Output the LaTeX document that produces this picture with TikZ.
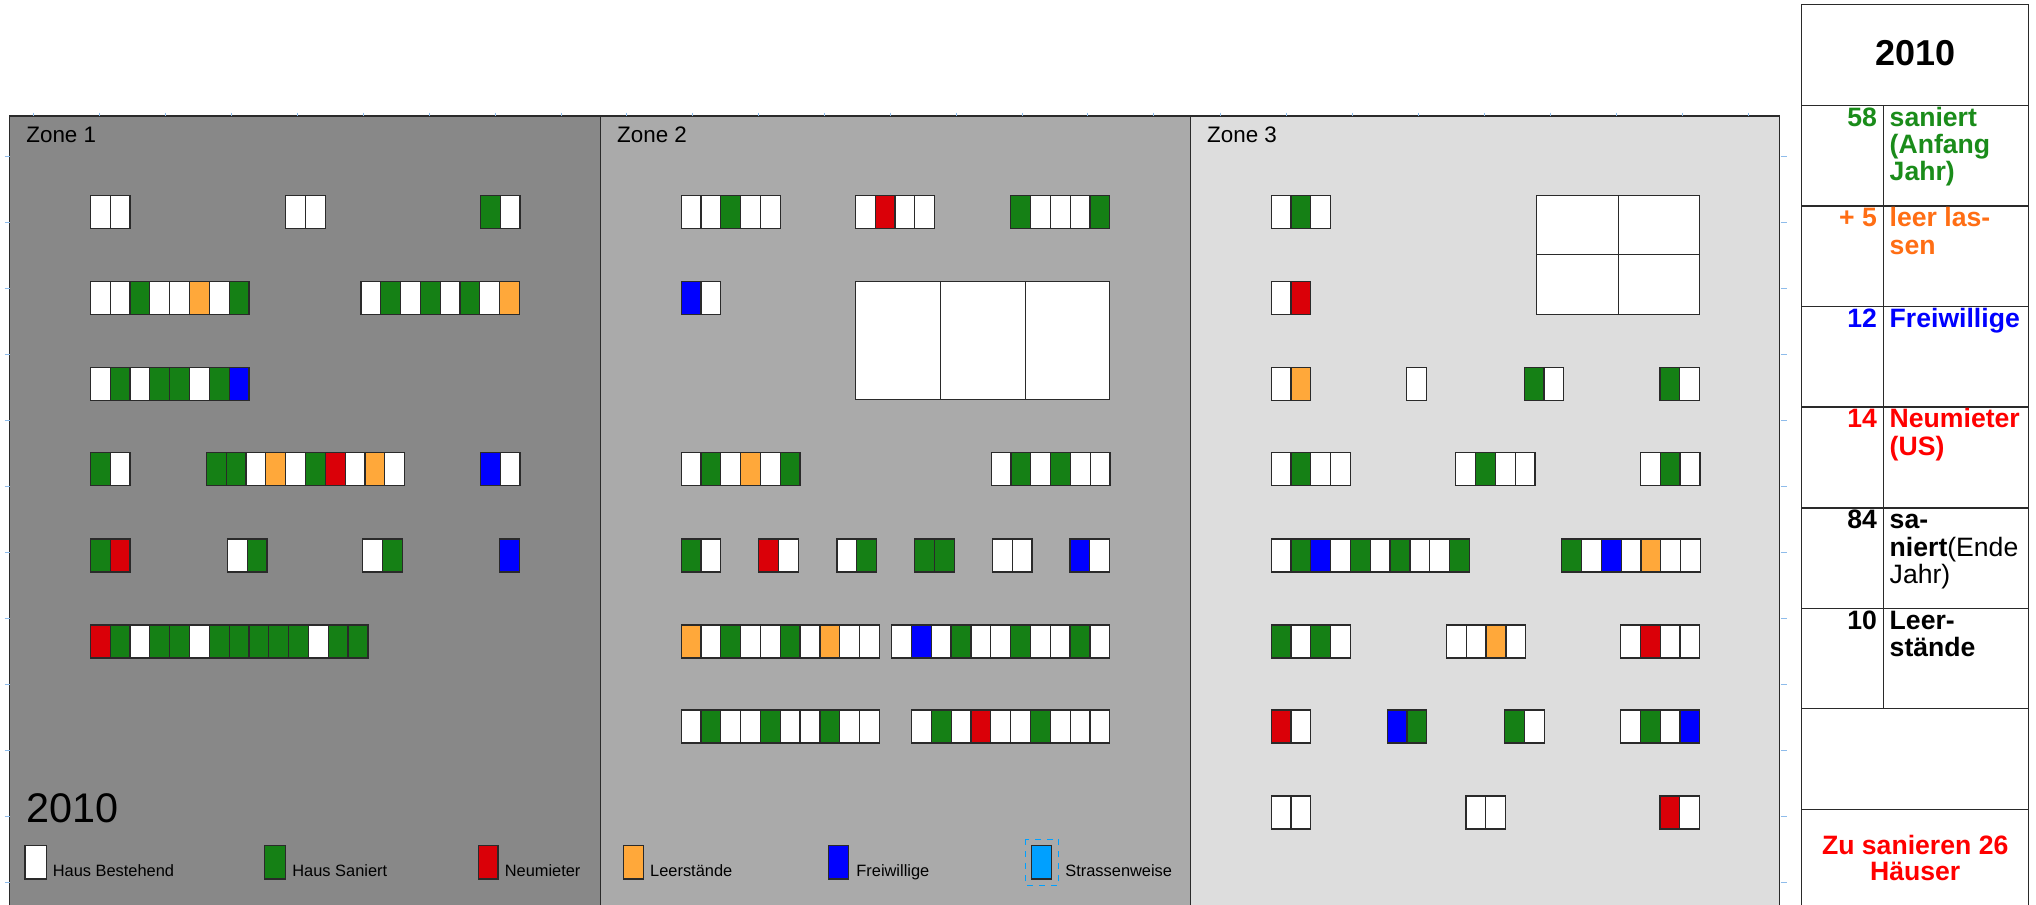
\documentclass[tikz,border=0pt]{standalone}
\usepackage{fontspec}
\setmainfont{Liberation Sans}
\definecolor{zoneA}{HTML}{888888}
\definecolor{zoneB}{HTML}{AAAAAA}
\definecolor{zoneC}{HTML}{DDDDDD}
\definecolor{hw}{HTML}{FFFFFF}
\definecolor{hg}{HTML}{158015}
\definecolor{ho}{HTML}{FFA83A}
\definecolor{hr}{HTML}{DA0008}
\definecolor{hb}{HTML}{0000FF}
\definecolor{hl}{HTML}{00A0FF}
\definecolor{edge}{HTML}{2A2A2A}
\definecolor{tickc}{HTML}{8EBCEB}
\definecolor{tgreen}{HTML}{1A8C1A}
\definecolor{torange}{HTML}{FF6E14}
\definecolor{tred}{HTML}{FF0000}
\definecolor{tblue}{HTML}{0000FF}
\def\cw{19.83}
\newcommand\blk[3]{\foreach \hc [count=\hi from 0] in {#3}{\path[house, fill=\hc] ({#1+\hi*\cw},#2) rectangle ++(\cw,33);}}
\begin{document}
\begin{tikzpicture}[x=0.5pt,y=-0.5pt,
  house/.style={draw=edge, line width=0.6pt},
  panel/.style={draw=edge, line width=0.6pt},
  tickst/.style={draw=tickc, line width=0.5pt},
  tbl/.style={draw=edge, line width=0.6pt},
  zonelbl/.style={inner sep=0pt, anchor=base west, font=\fontsize{11.2pt}{13pt}\selectfont},
  legtxt/.style={inner sep=0pt, anchor=base west, font=\fontsize{8.2pt}{10pt}\selectfont},
  tnum/.style={inner sep=0pt, anchor=base east, font=\fontsize{13.3pt}{13.7pt}\selectfont\bfseries},
  ttxt/.style={inner sep=0pt, anchor=base west, font=\fontsize{13.3pt}{13.7pt}\selectfont\bfseries},
  tplain/.style={inner sep=0pt, anchor=base west, font=\fontsize{13.3pt}{13.7pt}\selectfont}]
\clip (0,0) rectangle (2036,905);
\fill[white] (0,0) rectangle (2036,905);
% panels
\path[panel, fill=zoneA] (9.6,116) rectangle (600.8,920);
\path[panel, fill=zoneB] (600.8,116) rectangle (1190.4,920);
\path[panel, fill=zoneC] (1190.4,116) rectangle (1779.4,920);
% ticks
\foreach \k in {0,...,8}{
  \path[tickst] ({33.7+65.97*\k},112.5) -- ++(0,3.5);
  \path[tickst] ({626.8+65.88*\k},112.5) -- ++(0,3.5);
  \path[tickst] ({1220.2+65.98*\k},112.5) -- ++(0,3.5);
}
\foreach \k in {0,...,11}{
  \path[tickst] (4.6,{156+66.03*\k}) -- ++(5,0);
  \path[tickst] (1780.5,{156+66.03*\k}) -- ++(6.5,0);
}
% zone labels
\node[zonelbl] (z1) at (26,142.7) {Zone 1};
\node[zonelbl] (z2) at (616.8,142.7) {Zone 2};
\node[zonelbl] (z3) at (1206.8,142.7) {Zone 3};
% Zone 1
\blk{90.3}{195.7}{hw,hw}
\blk{285.5}{195.7}{hw,hw}
\blk{480.3}{195.7}{hg,hw}
\blk{90.3}{281.7}{hw,hw,hg,hw,hw,ho,hw,hg}
\blk{360.9}{281.7}{hw,hg,hw,hg,hw,hg,hw,ho}
\blk{90.3}{367.3}{hw,hg,hw,hg,hg,hw,hg,hb}
\blk{90.3}{452.7}{hg,hw}
\blk{206.3}{452.7}{hg,hg,hw,ho,hw,hg,hr,hw,ho,hw}
\blk{480.3}{452.7}{hb,hw}
\blk{90.3}{539}{hg,hr}
\blk{227.3}{539}{hw,hg}
\blk{362.8}{539}{hw,hg}
\blk{499.8}{539}{hb}
\blk{90.3}{625}{hr,hg,hw,hg,hg,hw,hg,hg,hg,hg,hg,hw,hg,hg}
% Zone 2
\blk{681.1}{195.7}{hw,hw,hg,hw,hw}
\blk{855.3}{195.7}{hw,hr,hw,hw}
\blk{1010.6}{195.7}{hg,hw,hw,hw,hg}
\blk{681.1}{281.7}{hb,hw}
\path[house, fill=white] (855.3,281.7) rectangle (1109.8,399.7);
\path[house] (940.6,281.7) -- (940.6,399.7) (1025.6,281.7) -- (1025.6,399.7);
\blk{681.1}{452.7}{hw,hg,hw,ho,hw,hg}
\blk{991.1}{452.7}{hw,hg,hw,hg,hw,hw}
\blk{681.1}{539}{hg,hw}
\blk{758.8}{539}{hr,hw}
\blk{836.9}{539}{hw,hg}
\blk{914.6}{539}{hg,hg}
\blk{992.3}{539}{hw,hw}
\blk{1070}{539}{hb,hw}
\blk{681.1}{625}{ho,hw,hg,hw,hw,hg,hw,ho,hw,hw}
\blk{891.6}{625}{hw,hb,hw,hg,hw,hw,hg,hw,hw,hg,hw}
\blk{681.1}{710}{hw,hg,hw,hw,hg,hw,hw,hg,hw,hw}
\blk{911.5}{710}{hw,hg,hw,hr,hw,hw,hg,hw,hw,hw}
% Zone 3
\blk{1271.1}{195.7}{hw,hg,hw}
\path[house, fill=white] (1536.3,195.7) rectangle (1699.8,314.7);
\path[house] (1618.6,195.7) -- (1618.6,314.7) (1536.3,254.3) -- (1699.8,254.3);
\blk{1271.1}{281.7}{hw,hr}
\blk{1271.1}{367.3}{hw,ho}
\blk{1406.6}{367.3}{hw}
\blk{1524.1}{367.3}{hg,hw}
\blk{1660}{367.3}{hg,hw}
\blk{1271.1}{452.7}{hw,hg,hw,hw}
\blk{1455.6}{452.7}{hw,hg,hw,hw}
\blk{1640.4}{452.7}{hw,hg,hw}
\blk{1271.1}{539}{hw,hg,hb,hw,hg,hw,hg,hw,hw,hg}
\blk{1561.6}{539}{hg,hw,hb,hw,ho,hw,hw}
\blk{1271.1}{625}{hg,hw,hg,hw}
\blk{1446.4}{625}{hw,hw,ho,hw}
\blk{1620.5}{625}{hw,hr,hw,hw}
\blk{1271.1}{710}{hr,hw}
\blk{1387.1}{710}{hb,hg}
\blk{1504.6}{710}{hg,hw}
\blk{1620.5}{710}{hw,hg,hw,hb}
\blk{1271.1}{796}{hw,hw}
\blk{1465.9}{796}{hw,hw}
\blk{1660}{796}{hr,hw}
% year and legend
\node[inner sep=0pt, anchor=base west, font=\fontsize{20.7pt}{24pt}\selectfont] (year) at (26,822.7) {2010};
\path[house, fill=hw] (24.9,845.7) rectangle (46.3,879);
\node[legtxt] (l1) at (52.4,876) {Haus Bestehend};
\path[house, fill=hg] (264.5,845.7) rectangle (285.5,879);
\node[legtxt] (l2) at (292,876) {Haus Saniert};
\path[house, fill=hr] (478.4,845.7) rectangle (497.9,879);
\node[legtxt] (l3) at (504.4,876) {Neumieter};
\path[house, fill=ho] (623.3,845.7) rectangle (643.2,879);
\node[legtxt] (l4) at (649.8,876) {Leerstände};
\path[house, fill=hb] (828.5,845.7) rectangle (848.8,879);
\node[legtxt] (l5) at (856,876) {Freiwillige};
\path[draw=hl, dashed, line width=0.5pt] (1025.6,839.3) rectangle (1058.9,885.7);
\path[house, fill=hl] (1031.3,845.7) rectangle (1051.6,879);
\node[legtxt] (l6) at (1065,876) {Strassenweise};
% table
\path[tbl, fill=white] (1801.7,4.7) rectangle (2028.7,920);
\foreach \yy in {105.3,206,306.3,407,508,608.3,708.7,809.3}{
  \path[tbl] (1801.7,\yy) -- (2028.7,\yy);
}
\path[tbl] (1883.3,105.3) -- (1883.3,708.7);
\node[inner sep=0pt, anchor=base, font=\fontsize{18pt}{20pt}\selectfont\bfseries] (thead) at (1915.2,65) {2010};
% row 1
\node[tnum, text=tgreen] (n1) at (1877.3,126) {58};
\node[ttxt, text=tgreen] (t1a) at (1889.3,126) {saniert};
\node[ttxt, text=tgreen] (t1b) at (1889.3,153.4) {(Anfang};
\node[ttxt, text=tgreen] (t1c) at (1889.3,180.8) {Jahr)};
% row 2
\node[tnum, text=torange] (n2) at (1877.3,226.7) {+ 5};
\node[ttxt, text=torange] (t2a) at (1889.3,226.7) {leer las-};
\node[ttxt, text=torange] (t2b) at (1889.3,254.1) {sen};
% row 3
\node[tnum, text=tblue] (n3) at (1877.3,327) {12};
\node[ttxt, text=tblue] (t3a) at (1889.3,327) {Freiwillige};
% row 4
\node[tnum, text=tred] (n4) at (1877.3,427.7) {14};
\node[ttxt, text=tred] (t4a) at (1889.3,427.7) {Neumieter};
\node[ttxt, text=tred] (t4b) at (1889.3,455.1) {(US)};
% row 5
\node[tnum] (n5) at (1877.3,528.7) {84};
\node[ttxt] (t5a) at (1889.3,528.7) {sa-};
\node[tplain] (t5b) at (1889.3,556.1) {\textbf{niert}(Ende};
\node[tplain] (t5c) at (1889.3,583.5) {Jahr)};
% row 6
\node[tnum] (n6) at (1877.3,629) {10};
\node[ttxt] (t6a) at (1889.3,629) {Leer-};
\node[ttxt] (t6b) at (1889.3,656.4) {stände};
% bottom
\node[inner sep=0pt, anchor=base, text=tred, font=\fontsize{13.3pt}{13.7pt}\selectfont\bfseries] (tz1) at (1915.2,854.3) {Zu sanieren 26};
\node[inner sep=0pt, anchor=base, text=tred, font=\fontsize{13.3pt}{13.7pt}\selectfont\bfseries] (tz2) at (1915.2,880) {Häuser};
\end{tikzpicture}
\end{document}
